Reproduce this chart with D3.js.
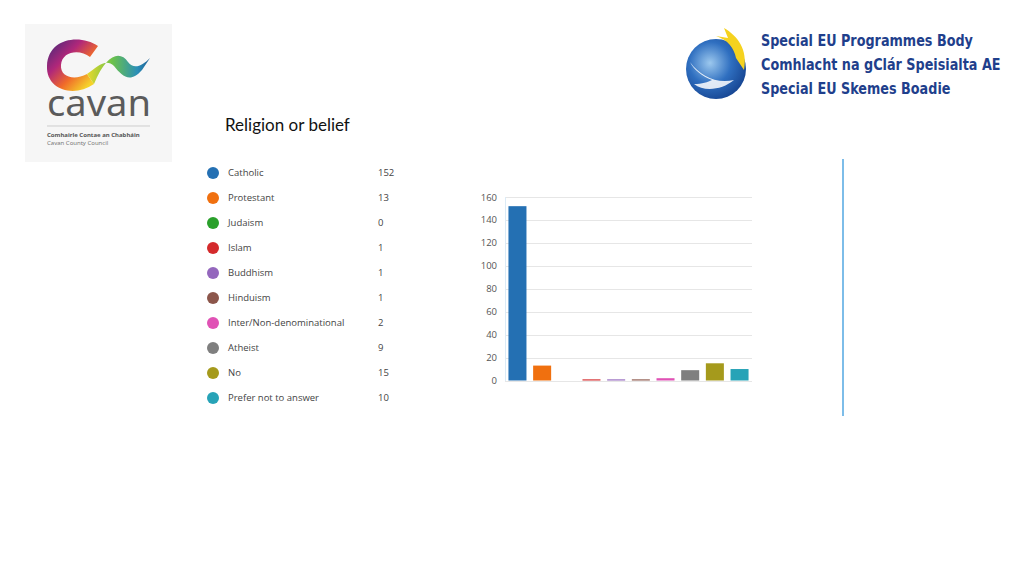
<!DOCTYPE html>
<html><head><meta charset="utf-8">
<script src="https://cdn.jsdelivr.net/npm/d3@7"></script>
<style>body{margin:0;background:#fff}svg{display:block}</style>
</head><body>
<svg id="c" width="1024" height="576"></svg>
<script>
const categories = ["Catholic","Protestant","Judaism","Islam","Buddhism","Hinduism","Inter/Non-denominational","Atheist","No","Prefer not to answer"];
const counts = [152,13,0,1,1,1,2,9,15,10];
const colors = ["#2470b3","#f0700f","#2aa02b","#d42a2c","#9467bd","#8c564b","#e052b5","#7f7f7f","#a59a1c","#27a3b7"];
const yTicks = [0,20,40,60,80,100,120,140,160];
const title = "Religion or belief";
const seupbLines = ["Special EU Programmes Body","Comhlacht na gClár Speisialta AE","Special EU Skemes Boadie"];

const svg = d3.select("#c");
const uiFont = "'Open Sans','Noto Sans',sans-serif";

// ---- Cavan logo ----
const cav = svg.append("g");
cav.append("rect").attr("x",25).attr("y",24).attr("width",147).attr("height",138).attr("fill","#f6f6f6");
const defs = svg.append("defs");
const g1 = defs.append("linearGradient").attr("id","cg").attr("x1","0").attr("y1","0").attr("x2","1").attr("y2","1");
g1.append("stop").attr("offset","0").attr("stop-color","#3b2a7a");
g1.append("stop").attr("offset","0.35").attr("stop-color","#b0277a");
g1.append("stop").attr("offset","0.6").attr("stop-color","#f06a2a");
g1.append("stop").attr("offset","0.85").attr("stop-color","#f5d22a");
const g2 = defs.append("linearGradient").attr("id","cw").attr("x1","0").attr("y1","0").attr("x2","1").attr("y2","0");
g2.append("stop").attr("offset","0").attr("stop-color","#e9d92a");
g2.append("stop").attr("offset","0.4").attr("stop-color","#6cc24a");
g2.append("stop").attr("offset","0.8").attr("stop-color","#2a8fb8");
g2.append("stop").attr("offset","1").attr("stop-color","#1d5d93");
cav.append("path")
  .attr("d","M98,46 C80,34 48,38 47,66 C46,90 74,98 94,84 L87,74 C74,81 60,77 61,65 C62,51 80,49 90,57 Z")
  .attr("fill","url(#cg)");
cav.append("path")
  .attr("d","M87,74 C98,66 106,58 114,66 C122,76 130,84 142,70 L150,58 C142,66 134,70 128,62 C120,50 106,54 94,84 Z")
  .attr("fill","url(#cw)");
cav.append("text").attr("x",47).attr("y",116)
  .attr("font-family","'Noto Sans',sans-serif").attr("font-size",36).attr("fill","#5b5b5b")
  .attr("textLength",104).attr("lengthAdjust","spacingAndGlyphs").text("cavan");
cav.append("line").attr("x1",47).attr("x2",150).attr("y1",126).attr("y2",126).attr("stroke","#bbb").attr("stroke-width",0.7);
cav.append("text").attr("x",47).attr("y",137).attr("font-family","'Noto Sans',sans-serif").attr("font-size",6).attr("font-weight","bold").attr("fill","#555").text("Comhairle Contae an Chabháin");
cav.append("text").attr("x",47).attr("y",145).attr("font-family","'Noto Sans',sans-serif").attr("font-size",6).attr("fill","#777").text("Cavan County Council");

// ---- SEUPB logo ----
const sg = defs.append("radialGradient").attr("id","sg").attr("cx","0.4").attr("cy","0.4").attr("r","0.7");
sg.append("stop").attr("offset","0").attr("stop-color","#9cc8ee");
sg.append("stop").attr("offset","0.5").attr("stop-color","#2f6fc0");
sg.append("stop").attr("offset","1").attr("stop-color","#123e8a");
const se = svg.append("g");
se.append("circle").attr("cx",716).attr("cy",69).attr("r",30).attr("fill","url(#sg)");
se.append("path").attr("d","M724,28 C738,36 748,50 744,70 L736,58 C734,48 728,40 716,36 L728,38 Z").attr("fill","#f5d21f");
se.append("path").attr("d","M690,62 C700,76 716,84 734,80 C722,90 704,92 694,84 C702,84 708,82 712,80 C702,76 694,70 690,62 Z").attr("fill","#ffffff").attr("opacity",0.85);
const seText = se.append("g").attr("transform","translate(761,0) scale(0.8,1)");
seupbLines.forEach((t,i)=>{
  seText.append("text").attr("x",0).attr("y",46+i*24)
    .attr("font-family","'DejaVu Sans',sans-serif").attr("font-weight","bold")
    .attr("font-size",16).attr("fill","#1f3f8c").text(t);
});

// ---- title ----
svg.append("text").attr("x",225).attr("y",131).attr("font-family","Lato,'Open Sans',sans-serif")
  .attr("font-size",17).attr("fill","#111").text(title);

// ---- legend ----
const ly = d3.scaleBand().domain(categories).range([160.5,410.5]);
const leg = svg.append("g").selectAll("g").data(categories).join("g")
  .attr("transform",d=>`translate(0,${ly(d)+ly.bandwidth()/2})`);
leg.append("circle").attr("cx",213).attr("r",6).attr("fill",(d,i)=>colors[i]);
leg.append("text").attr("x",228).attr("dy","0.35em").attr("font-family",uiFont).attr("font-size",9.5).attr("fill","#444").text(d=>d);
leg.append("text").attr("x",378).attr("dy","0.35em").attr("font-family",uiFont).attr("font-size",9.5).attr("fill","#444").text((d,i)=>counts[i]);

// ---- bar chart ----
const x = d3.scaleBand().domain(categories).range([505,752]).paddingInner(0.27).paddingOuter(0.14);
const y = d3.scaleLinear().domain([0,160]).range([380.5,197]);
const grid = svg.append("g");
grid.selectAll("line").data(yTicks).join("line")
  .attr("x1",505).attr("x2",752).attr("y1",d=>Math.round(y(d))+0.5).attr("y2",d=>Math.round(y(d))+0.5)
  .attr("stroke","#e6e6e6").attr("stroke-width",1);
svg.append("line").attr("x1",505.5).attr("x2",505.5).attr("y1",197).attr("y2",381).attr("stroke","#dcebf6");
const yAxis = d3.axisLeft(y).tickValues(yTicks).tickSize(0).tickPadding(0);
const ag = svg.append("g").attr("transform","translate(497,0)").call(yAxis);
ag.select(".domain").remove();
ag.selectAll("text").attr("font-family",uiFont).attr("font-size",9.5).attr("fill","#555");
svg.append("g").selectAll("rect").data(categories).join("rect")
  .attr("x",d=>x(d)).attr("width",x.bandwidth())
  .attr("y",(d,i)=>y(counts[i])).attr("height",(d,i)=>y(0)-y(counts[i]))
  .attr("fill",(d,i)=>colors[i]);

// ---- right vertical line ----
svg.append("line").attr("x1",843).attr("x2",843).attr("y1",159).attr("y2",416).attr("stroke","#7dbde9").attr("stroke-width",2);
</script>
</body></html>
